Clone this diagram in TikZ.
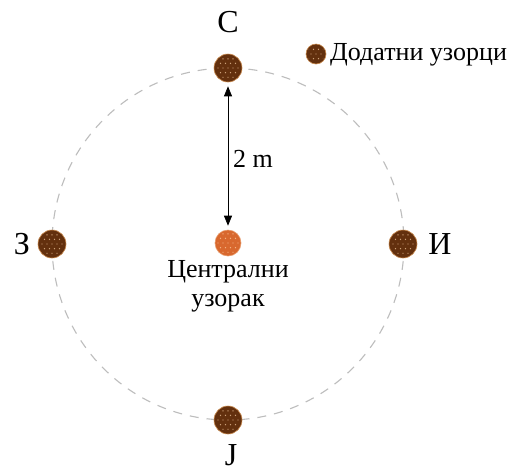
\documentclass[tikz,border=0pt]{standalone}
\usepackage{fontspec}
\setmainfont{Liberation Serif}
\usetikzlibrary{arrows.meta,calc}
\definecolor{soil}{HTML}{63300E}
\definecolor{soilrim}{HTML}{C98A4E}
\definecolor{core}{HTML}{D8682E}
\definecolor{corerim}{HTML}{E89A6A}
\definecolor{ringgray}{HTML}{BDBDBD}
\tikzset{
  ring/.style={draw=ringgray, dash pattern=on 9pt off 8pt, line width=1.1pt},
  label/.style={font=\fontsize{32}{34}\selectfont, inner sep=0pt},
  caption/.style={font=\fontsize{26}{29}\selectfont, inner sep=0pt, align=center},
  dist/.style={{Triangle[length=10pt,width=8pt]}-{Triangle[length=10pt,width=8pt]}, line width=0.7pt, black}
}
% a speckled sample disc: #1 name, #2 x, #3 y, #4 radius, #5 fill, #6 rim
\newcommand{\sampledisc}[6]{%
  \node[circle, minimum size=2*#4, inner sep=0pt, fill=#5, draw=#6, line width=0.6pt] (#1) at (#2,#3) {};
  \begin{scope}
    \clip (#2,#3) circle[radius=#4-1.5];
    \foreach \i in {-3,...,3}{\foreach \j in {-3,...,3}{
      \pgfmathsetmacro{\dx}{#2+\i*5+mod(abs(\j),2)*2.5}
      \pgfmathsetmacro{\dy}{#3+\j*4.6}
      \fill[orange!40!#5!55!white] (\dx,\dy) circle[radius=0.7pt];
    }}
  \end{scope}
}
\begin{document}
\begin{tikzpicture}[x=1pt,y=-1pt]
\useasboundingbox (0,0) rectangle (511,475);
\fill[white] (0,0) rectangle (511,475);
% sampling ring, 2 m around the central sample
\draw[ring] (228,244) circle[radius=176];
\sampledisc{n}{228}{68}{14}{soil}{soilrim}
\sampledisc{s}{228}{420}{14}{soil}{soilrim}
\sampledisc{w}{52}{244}{14}{soil}{soilrim}
\sampledisc{e}{403}{244}{14}{soil}{soilrim}
\sampledisc{c}{228}{243}{13}{core}{corerim}
\sampledisc{legend}{316}{54}{10}{soil}{soilrim}
% direction letters
\node[label] (ln) at (228,22) {С};
\node[label] (lw) at (22,244) {З};
\node[label] (le) at (440,244) {И};
\node[label, anchor=base] (ls) at (231,465) {J};
% legend text
\node[caption, anchor=west] (lt) at (330,55) {Додатни узорци};
% distance marker
\draw[dist] ($(n.south)+(0,4)$) -- ($(c.north)+(0,-4)$);
\node[caption, anchor=west] (dm) at (233,159) {2 m};
% central sample caption
\node[caption] (cc) at (228,286) {Централни\\узорак};
\end{tikzpicture}
\end{document}
